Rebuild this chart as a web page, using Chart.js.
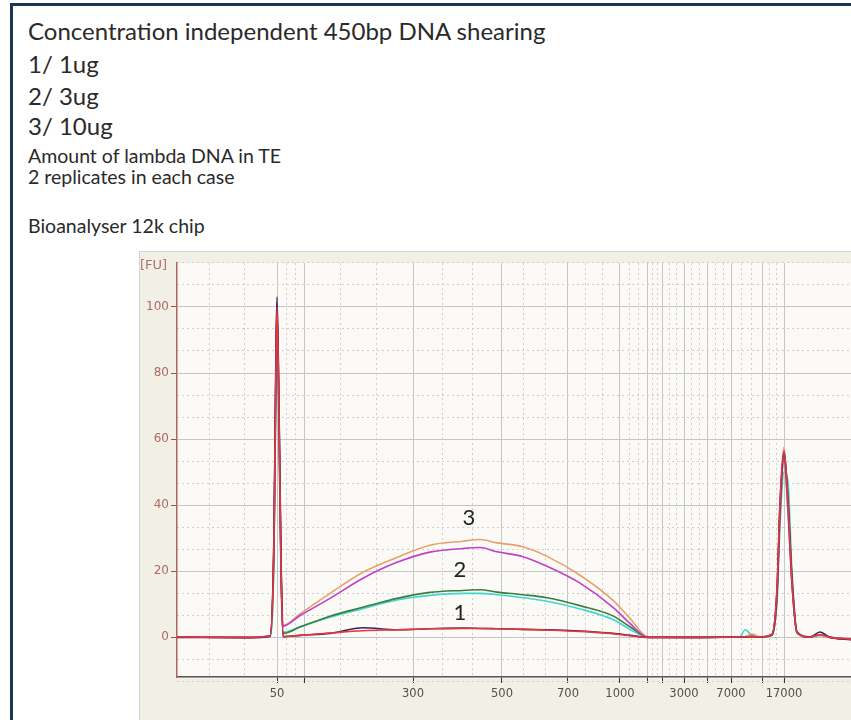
<!DOCTYPE html>
<html>
<head>
<meta charset="utf-8">
<script src="https://cdn.jsdelivr.net/npm/chart.js@4.4.0/dist/chart.umd.min.js"></script>
<style>
  body { margin: 0; background: #fff; width: 851px; height: 720px; overflow: hidden; position: relative; font-family: 'Lato', sans-serif; color: #2a2a2a; }
  .frame { position: absolute; left: 10px; top: 3px; width: 900px; height: 800px; border-left: 3px solid #1d3657; border-top: 3px solid #1d3657; }
  .txt { position: absolute; left: 28px; line-height: 1; white-space: nowrap; }
  .big { font-size: 24px; }
  .small { font-size: 19.5px; }
  .panel { position: absolute; left: 139px; top: 251px; width: 720px; height: 480px; background: #f1efe6; border-top: 1px solid #d2d2d2; border-left: 1px solid #d2d2d2; }
  #chart { position: absolute; left: 140px; top: 252px; }
  .fu { position: absolute; left: 140px; top: 257px; font: 13px 'DejaVu Sans', sans-serif; color: #b0706a; }
</style>
</head>
<body>
<div class="frame"></div>
<div class="txt big" style="top:19px">Concentration independent 450bp DNA shearing</div>
<div class="txt big" style="top:52px">1/ 1ug</div>
<div class="txt big" style="top:84px">2/ 3ug</div>
<div class="txt big" style="top:114px">3/ 10ug</div>
<div class="txt small" style="top:146px">Amount of lambda DNA in TE</div>
<div class="txt small" style="top:167px">2 replicates in each case</div>
<div class="txt small" style="top:216px">Bioanalyser 12k chip</div>
<div class="panel"></div>
<canvas id="chart" width="711" height="468"></canvas>
<div class="fu">[FU]</div>
<script>
// ladder (bp) and where each size runs on the time axis
const ladderSizes = [50, 100, 300, 500, 700, 1000, 1500, 2000, 3000, 5000, 7000, 10380, 17000];
const ladderTimes = [40.0, 42.8, 53.6, 62.5, 69.1, 74.3, 77.1, 78.5, 80.7, 83.1, 85.4, 88.5, 90.7];
const shownSizes = [50, 300, 500, 700, 1000, 3000, 7000, 17000];
const fuTicks = [0, 20, 40, 60, 80, 100];

// migration time of each sample point
const migrationTime = [30.0, 37.3, 39.3, 39.7, 39.9, 40.0, 40.2, 40.4, 40.6, 42.3, 45.3, 48.6, 52.0, 55.3, 58.6, 60.3, 62.0, 64.6, 67.0, 70.3, 73.6, 75.3, 77.1, 82.3, 86.3, 86.8, 87.5, 88.3, 89.5, 90.0, 90.3, 90.7, 91.1, 91.5, 92.0, 93.3, 94.3, 95.3, 97.4];

// fluorescence, 2 replicates per amount
const ug10a = [0.2, 0.1, 0.5, 28, 82, 98, 66, 22, 3.6, 7.1, 13.3, 19.7, 24.2, 27.9, 29.1, 29.6, 28.6, 27.4, 24.5, 18.8, 11.2, 5.8, 0.1, 0.0, 0.1, 0.2, 1.0, 0.2, 1.0, 14, 40, 57.5, 40, 17, 1.5, 0.2, 0.6, 0.0, -0.6];
const ug10b = [0.1, 0.0, 0.4, 30, 85, 101, 68, 24, 3.4, 6.6, 11.8, 17.9, 22.7, 25.8, 26.9, 27.2, 25.9, 24.4, 21.5, 16.4, 9.1, 4.2, 0.0, 0.0, 0.1, 0.1, 0.3, 0.1, 0.8, 13, 38, 55, 39, 16, 1.4, 0.1, 0.8, 0.0, -0.5];
const ug3a = [0.1, 0.0, 0.4, 27, 80, 99, 64, 20, 1.2, 3.1, 6.4, 9.1, 11.8, 13.6, 14.2, 14.4, 13.7, 12.9, 12.0, 9.6, 6.5, 3.2, 0.1, 0.0, 0.1, 0.2, 0.4, 0.1, 0.7, 12, 37, 54, 38, 16, 1.3, 0.1, 0.7, 0.0, -0.6];
const ug3b = [0.1, 0.0, 0.4, 25, 78, 97, 62, 19, 1.5, 3.2, 6.1, 8.7, 11.3, 12.7, 13.3, 13.3, 12.9, 12.0, 10.9, 8.6, 5.4, 2.4, 0.1, 0.0, 0.2, 2.3, 0.6, 0.1, 0.6, 11, 34, 50, 47, 20, 1.6, 0.2, 0.6, 0.0, -0.5];
const ug1a = [0.0, -0.1, 0.3, 32, 88, 103, 70, 24, 0.2, 0.6, 1.2, 2.9, 2.3, 2.6, 2.8, 2.7, 2.6, 2.4, 2.3, 1.9, 1.2, 0.6, 0.0, 0.0, 0.1, 0.1, 0.2, 0.1, 0.9, 14, 40, 56, 42, 18, 1.6, 0.1, 1.6, 0.0, -0.7];
const ug1b = [0.1, 0.0, 0.5, 30, 84, 100, 67, 22, 0.3, 0.6, 1.3, 2.0, 2.3, 2.6, 2.7, 2.7, 2.6, 2.4, 2.2, 1.8, 1.1, 0.5, 0.0, 0.0, 0.1, 0.1, 0.2, 0.1, 1.0, 15, 41, 56.5, 41, 17, 1.5, 0.1, 0.8, 0.0, -0.6];

// curve numbers written on the plot
const groupLabels = ['1', '2', '3'];
const groupLabelTime = [58.3, 58.3, 59.2];
const groupLabelFU = [7.3, 20.3, 36.1];

function pts(vals) {
    return migrationTime.map((t, i) => ({ x: t, y: vals[i] }));
}

// dotted lines at thirds between the ladder positions
const minorTimes = [33.3, 36.7];
for (let i = 0; i < ladderTimes.length - 1; i++) {
    const a = ladderTimes[i], b = ladderTimes[i + 1];
    minorTimes.push(a + (b - a) / 3, a + 2 * (b - a) / 3);
}
const minorFU = [];
for (let v = -20; v <= 120; v += 20) {
    minorFU.push(v + 20 / 3, v + 40 / 3);
}

const plotBg = {
    id: 'plotBg',
    beforeDraw(chart) {
        const { ctx, chartArea: a } = chart;
        ctx.save();
        ctx.fillStyle = '#fbfaf6';
        ctx.fillRect(a.left, a.top, a.right - a.left, a.bottom - a.top);
        ctx.restore();
    }
};

const groupText = {
    id: 'groupText',
    afterDatasetsDraw(chart) {
        const { ctx, scales } = chart;
        ctx.save();
        ctx.font = '22px Lato';
        ctx.fillStyle = '#222';
        ctx.textAlign = 'center';
        ctx.textBaseline = 'middle';
        groupLabels.forEach((s, i) => {
            ctx.fillText(s, scales.x.getPixelForValue(groupLabelTime[i]), scales.y.getPixelForValue(groupLabelFU[i]));
        });
        ctx.restore();
    }
};

const line = (data, color) => ({
    data: pts(data),
    borderColor: color,
    borderWidth: 1.6,
    pointRadius: 0,
    cubicInterpolationMode: 'monotone',
    fill: false
});

// first dataset ends up on top
new Chart(document.getElementById('chart').getContext('2d'), {
    type: 'line',
    data: {
        datasets: [
            line(ug1b, '#e23a3a'),
            line(ug1a, '#3b1f5c'),
            line(ug10b, '#c03ecb'),
            line(ug10a, '#e6a06c'),
            line(ug3a, '#3b7d3e'),
            line(ug3b, '#3fd6cf')
        ]
    },
    options: {
        responsive: false,
        animation: false,
        layout: { padding: { top: 11, right: 0, left: 0, bottom: 0 } },
        plugins: { legend: { display: false }, tooltip: { enabled: false } },
        scales: {
            x: {
                type: 'linear',
                position: 'bottom',
                min: 30,
                max: 97.4,
                afterBuildTicks: (s) => { s.ticks = ladderTimes.map(v => ({ value: v })); },
                afterFit: (s) => { s.height = 43; },
                ticks: {
                    autoSkip: false,
                    maxRotation: 0,
                    padding: 4,
                    color: '#505050',
                    font: { family: 'DejaVu Sans', size: 11.5 },
                    callback: (v) => {
                        const size = ladderSizes[ladderTimes.indexOf(v)];
                        return shownSizes.includes(size) ? String(size) : '';
                    }
                },
                grid: { color: '#c6c6c6', lineWidth: 1, tickColor: '#333', tickLength: 6 },
                border: { color: '#555', width: 1.5 }
            },
            xMinor: {
                type: 'linear',
                position: 'bottom',
                min: 30,
                max: 97.4,
                afterBuildTicks: (s) => { s.ticks = minorTimes.map(v => ({ value: v })); },
                afterFit: (s) => { s.height = 0; },
                ticks: { display: false },
                grid: { color: '#cfcfcf', lineWidth: 1, drawTicks: false },
                border: { display: false, dash: [2, 3] }
            },
            y: {
                min: -12,
                max: 113.3,
                afterBuildTicks: (s) => { s.ticks = fuTicks.map(v => ({ value: v })); },
                afterFit: (s) => { s.width = 37; },
                ticks: {
                    padding: 2,
                    color: '#ac6a64',
                    font: { family: 'DejaVu Sans', size: 12 }
                },
                grid: { color: '#c6c6c6', lineWidth: 1, tickColor: '#a0504a', tickLength: 6 },
                border: { color: '#b2625c', width: 1.5 }
            },
            yMinor: {
                position: 'left',
                min: -12,
                max: 113.3,
                afterBuildTicks: (s) => { s.ticks = minorFU.map(v => ({ value: v })); },
                afterFit: (s) => { s.width = 0; },
                ticks: { display: false },
                grid: { color: '#cfcfcf', lineWidth: 1, drawTicks: false },
                border: { display: false, dash: [2, 3] }
            }
        }
    },
    plugins: [plotBg, groupText]
});
</script>
</body>
</html>
